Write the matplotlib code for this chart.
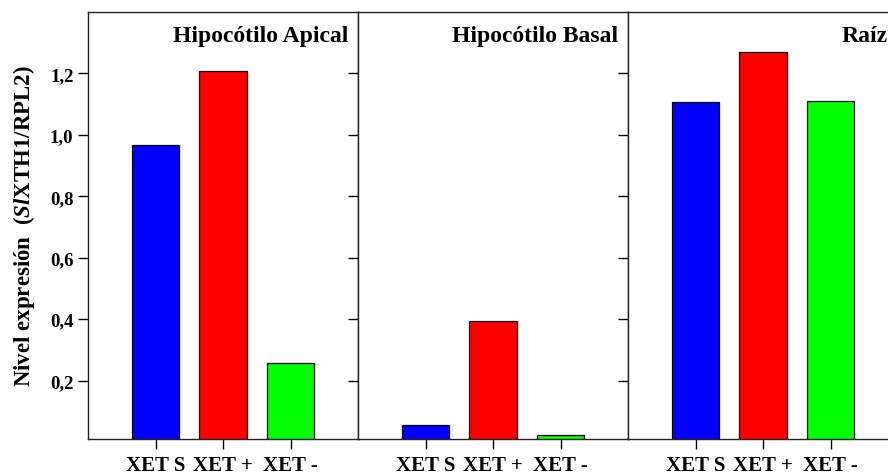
import matplotlib
matplotlib.use("Agg")
import matplotlib.pyplot as plt

categories = ["XET S", "XET +", "XET -"]
panels = ["Hipocótilo Apical", "Hipocótilo Basal", "Raíz"]
apical = [0.967, 1.207, 0.256]
basal = [0.056, 0.395, 0.023]
raiz = [1.107, 1.271, 1.109]
values = [apical, basal, raiz]
colors = ["#0000FF", "#FF0000", "#00FF00"]
yticks = [0.2, 0.4, 0.6, 0.8, 1.0, 1.2]
yticklabels = ["0,2", "0,4", "0,6", "0,8", "1,0", "1,2"]

plt.rcParams['font.family'] = ['Liberation Serif', 'DejaVu Serif']
plt.rcParams['font.weight'] = 'bold'
plt.rcParams['mathtext.fontset'] = 'custom'
plt.rcParams['mathtext.rm'] = 'Liberation Serif:bold'
plt.rcParams['mathtext.it'] = 'Liberation Serif:italic:bold'

fig = plt.figure(figsize=(8.88, 4.77), dpi=100)
W, H = 888, 477
left0, pw = 88, 270
top, bottom = 13, 440
x = [1, 2, 3]
for i, (name, vals) in enumerate(zip(panels, values)):
    ax = fig.add_axes([(left0 + i * pw) / W, (H - bottom) / H, pw / W, (bottom - top) / H])
    ax.bar(x, vals, width=0.71, color=colors, edgecolor='black', linewidth=0.9, zorder=2)
    ax.set_xlim(0, 4)
    ax.set_ylim(0.01, 1.4)
    ax.set_xticks(x)
    ax.set_xticklabels(categories, fontsize=15, fontweight='bold')
    ax.set_yticks(yticks)
    ax.tick_params(axis='x', direction='out', length=7, width=1, pad=4.5)
    ax.tick_params(axis='y', direction='out', length=7, width=1, left=True, right=True)
    if i == 0:
        ax.set_yticklabels(yticklabels, fontsize=13.5, fontweight='bold')
        ax.set_ylabel("Nivel expresión  ($\\it{Sl}$XTH1/RPL2)", fontsize=16.5,
                      fontweight='bold', labelpad=9)
    else:
        ax.set_yticklabels([])
    for s in ax.spines.values():
        s.set_linewidth(1.0)
        s.set_color('#222222')
    ax.text(0.963, 0.932, name, transform=ax.transAxes, ha='right', va='baseline',
            fontsize=17, fontweight='bold')

fig.savefig("out.png", dpi=100)
